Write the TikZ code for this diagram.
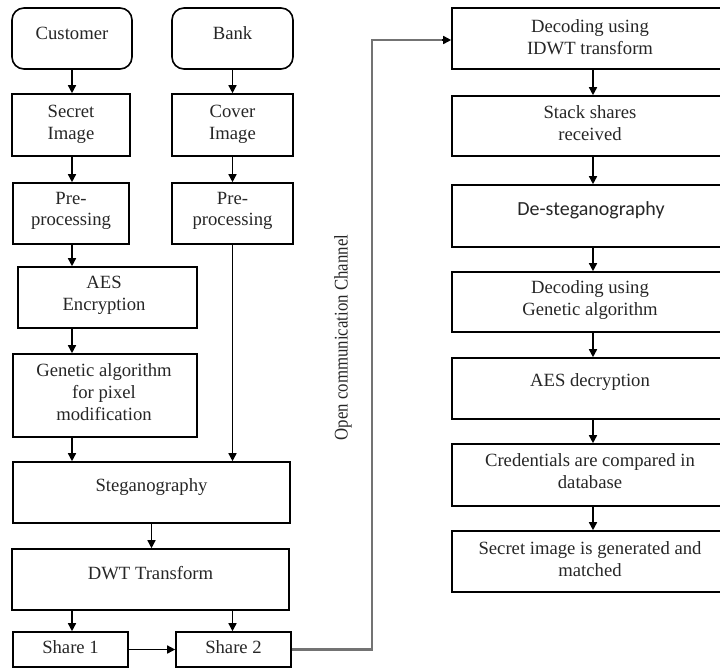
\documentclass[tikz,border=0pt]{standalone}
\usepackage{fontspec}
\setmainfont{Liberation Serif}
\newfontfamily\calfont{Carlito}
\usetikzlibrary{arrows.meta}
\begin{document}
\begin{tikzpicture}[x=0.75pt,y=-0.75pt,
  box/.style={draw=black,line width=1.2pt,inner sep=0pt,minimum width=#1},
  rbox/.style={box=#1,rounded corners=9pt},
  txt/.style={inner sep=0pt,align=center,text=black!85,font=\fontsize{14}{16.3}\selectfont},
  arr/.style={line width=1.1pt,-{Triangle[width=6pt,length=6pt]}},
  chan/.style={line width=1.6pt,draw=black!55}
]
\useasboundingbox (0,0) rectangle (720,669);
\clip (0,0) rectangle (720,669);
% left column
\node[rbox=120*0.75pt,minimum height=61*0.75pt] (cust) at (72,38.5) {};
\node[txt] (tcust) at (72,33) {Customer};
\node[rbox=121*0.75pt,minimum height=61*0.75pt] (bank) at (232.5,38.5) {};
\node[txt] (tbank) at (232.5,33) {Bank};
\node[box=118*0.75pt,minimum height=62*0.75pt] (secret) at (71,125) {};
\node[txt] (tsecret) at (71,124) {Secret\\Image};
\node[box=121*0.75pt,minimum height=62*0.75pt] (cover) at (232.5,125) {};
\node[txt] (tcover) at (232.5,124) {Cover\\Image};
\node[box=116*0.75pt,minimum height=61*0.75pt] (pre1) at (71,213.5) {};
\node[txt] (tpre1) at (71,211) {Pre-\\processing};
\node[box=121*0.75pt,minimum height=61*0.75pt] (pre2) at (232.5,213.5) {};
\node[txt] (tpre2) at (232.5,211) {Pre-\\processing};
\node[box=179*0.75pt,minimum height=61*0.75pt] (aes) at (107.5,297.5) {};
\node[txt] (taes) at (104,295) {AES\\Encryption};
\node[box=184*0.75pt,minimum height=83*0.75pt] (gen) at (105,395.5) {};
\node[txt] (tgen) at (104,392) {Genetic algorithm\\for pixel\\modification};
\node[box=277*0.75pt,minimum height=61*0.75pt] (steg) at (151.5,492.5) {};
\node[txt] (tsteg) at (151.5,487) {Steganography};
\node[box=277*0.75pt,minimum height=61*0.75pt] (dwt) at (150.5,579.5) {};
\node[txt] (tdwt) at (150.5,573) {DWT Transform};
\node[box=115*0.75pt,minimum height=35*0.75pt] (sh1) at (70.5,649.5) {};
\node[txt] (tsh1) at (70.5,647) {Share 1};
\node[box=115*0.75pt,minimum height=35*0.75pt] (sh2) at (233.5,649.5) {};
\node[txt] (tsh2) at (233.5,647) {Share 2};
% right column
\node[box=278*0.75pt,minimum height=61*0.75pt] (dec1) at (591,38.5) {};
\node[txt] (tdec1) at (590,37) {Decoding using\\IDWT transform};
\node[box=278*0.75pt,minimum height=60*0.75pt] (stack) at (591,126) {};
\node[txt] (tstack) at (590,123) {Stack shares\\received};
\node[box=278*0.75pt,minimum height=62*0.75pt] (desteg) at (591,216) {};
\node[txt,font=\calfont\fontsize{15}{17}\selectfont] (tdesteg) at (591,210) {De-steganography};
\node[box=278*0.75pt,minimum height=60*0.75pt] (dec2) at (591,302) {};
\node[txt] (tdec2) at (590,300) {Decoding using\\Genetic algorithm};
\node[box=278*0.75pt,minimum height=61*0.75pt] (aesd) at (591,388.5) {};
\node[txt] (taesd) at (590,382) {AES decryption};
\node[box=278*0.75pt,minimum height=62*0.75pt] (cred) at (591,475) {};
\node[txt] (tcred) at (590,471) {Credentials are compared in\\database};
\node[box=278*0.75pt,minimum height=61*0.75pt] (simg) at (591,561.5) {};
\node[txt] (tsimg) at (590,559) {Secret image is generated and\\matched};
% channel label
\node[inner sep=0pt,rotate=90,text=black!85,font=\fontsize{12.6}{14}\selectfont] (tchan) at (343,337.5) {\scalebox{1}[1.15]{Open communication Channel}};
% arrows left
\draw[arr] (72,69) coordinate (a1) -- (a1 |- secret.north);
\draw[arr] (a1 |- secret.south) -- (a1 |- pre1.north);
\draw[arr] (a1 |- pre1.south) -- (a1 |- aes.north);
\draw[arr] (a1 |- aes.south) -- (a1 |- gen.north);
\draw[arr] (a1 |- gen.south) -- (a1 |- steg.north);
\draw[arr] (232.5,69) coordinate (b1) -- (b1 |- cover.north);
\draw[arr] (b1 |- cover.south) -- (b1 |- pre2.north);
\draw[arr] (b1 |- pre2.south) -- (b1 |- steg.north);
\draw[arr] (steg.south) -- (steg.south |- dwt.north);
\draw[arr] (a1 |- dwt.south) -- (a1 |- sh1.north);
\draw[arr] (b1 |- dwt.south) -- (b1 |- sh2.north);
\draw[arr] (sh1.east) -- (sh2.west);
% channel
\coordinate (ch) at (372,40);
\draw[chan] (sh2.east) -| (ch) -- ([xshift=-6pt]ch -| dec1.west);
\draw[arr] ([xshift=-7pt]ch -| dec1.west) -- (ch -| dec1.west);
% arrows right
\coordinate (r1) at (593,0);
\draw[arr] (r1 |- dec1.south) -- (r1 |- stack.north);
\draw[arr] (r1 |- stack.south) -- (r1 |- desteg.north);
\draw[arr] (r1 |- desteg.south) -- (r1 |- dec2.north);
\draw[arr] (r1 |- dec2.south) -- (r1 |- aesd.north);
\draw[arr] (r1 |- aesd.south) -- (r1 |- cred.north);
\draw[arr] (r1 |- cred.south) -- (r1 |- simg.north);
\end{tikzpicture}
\end{document}
